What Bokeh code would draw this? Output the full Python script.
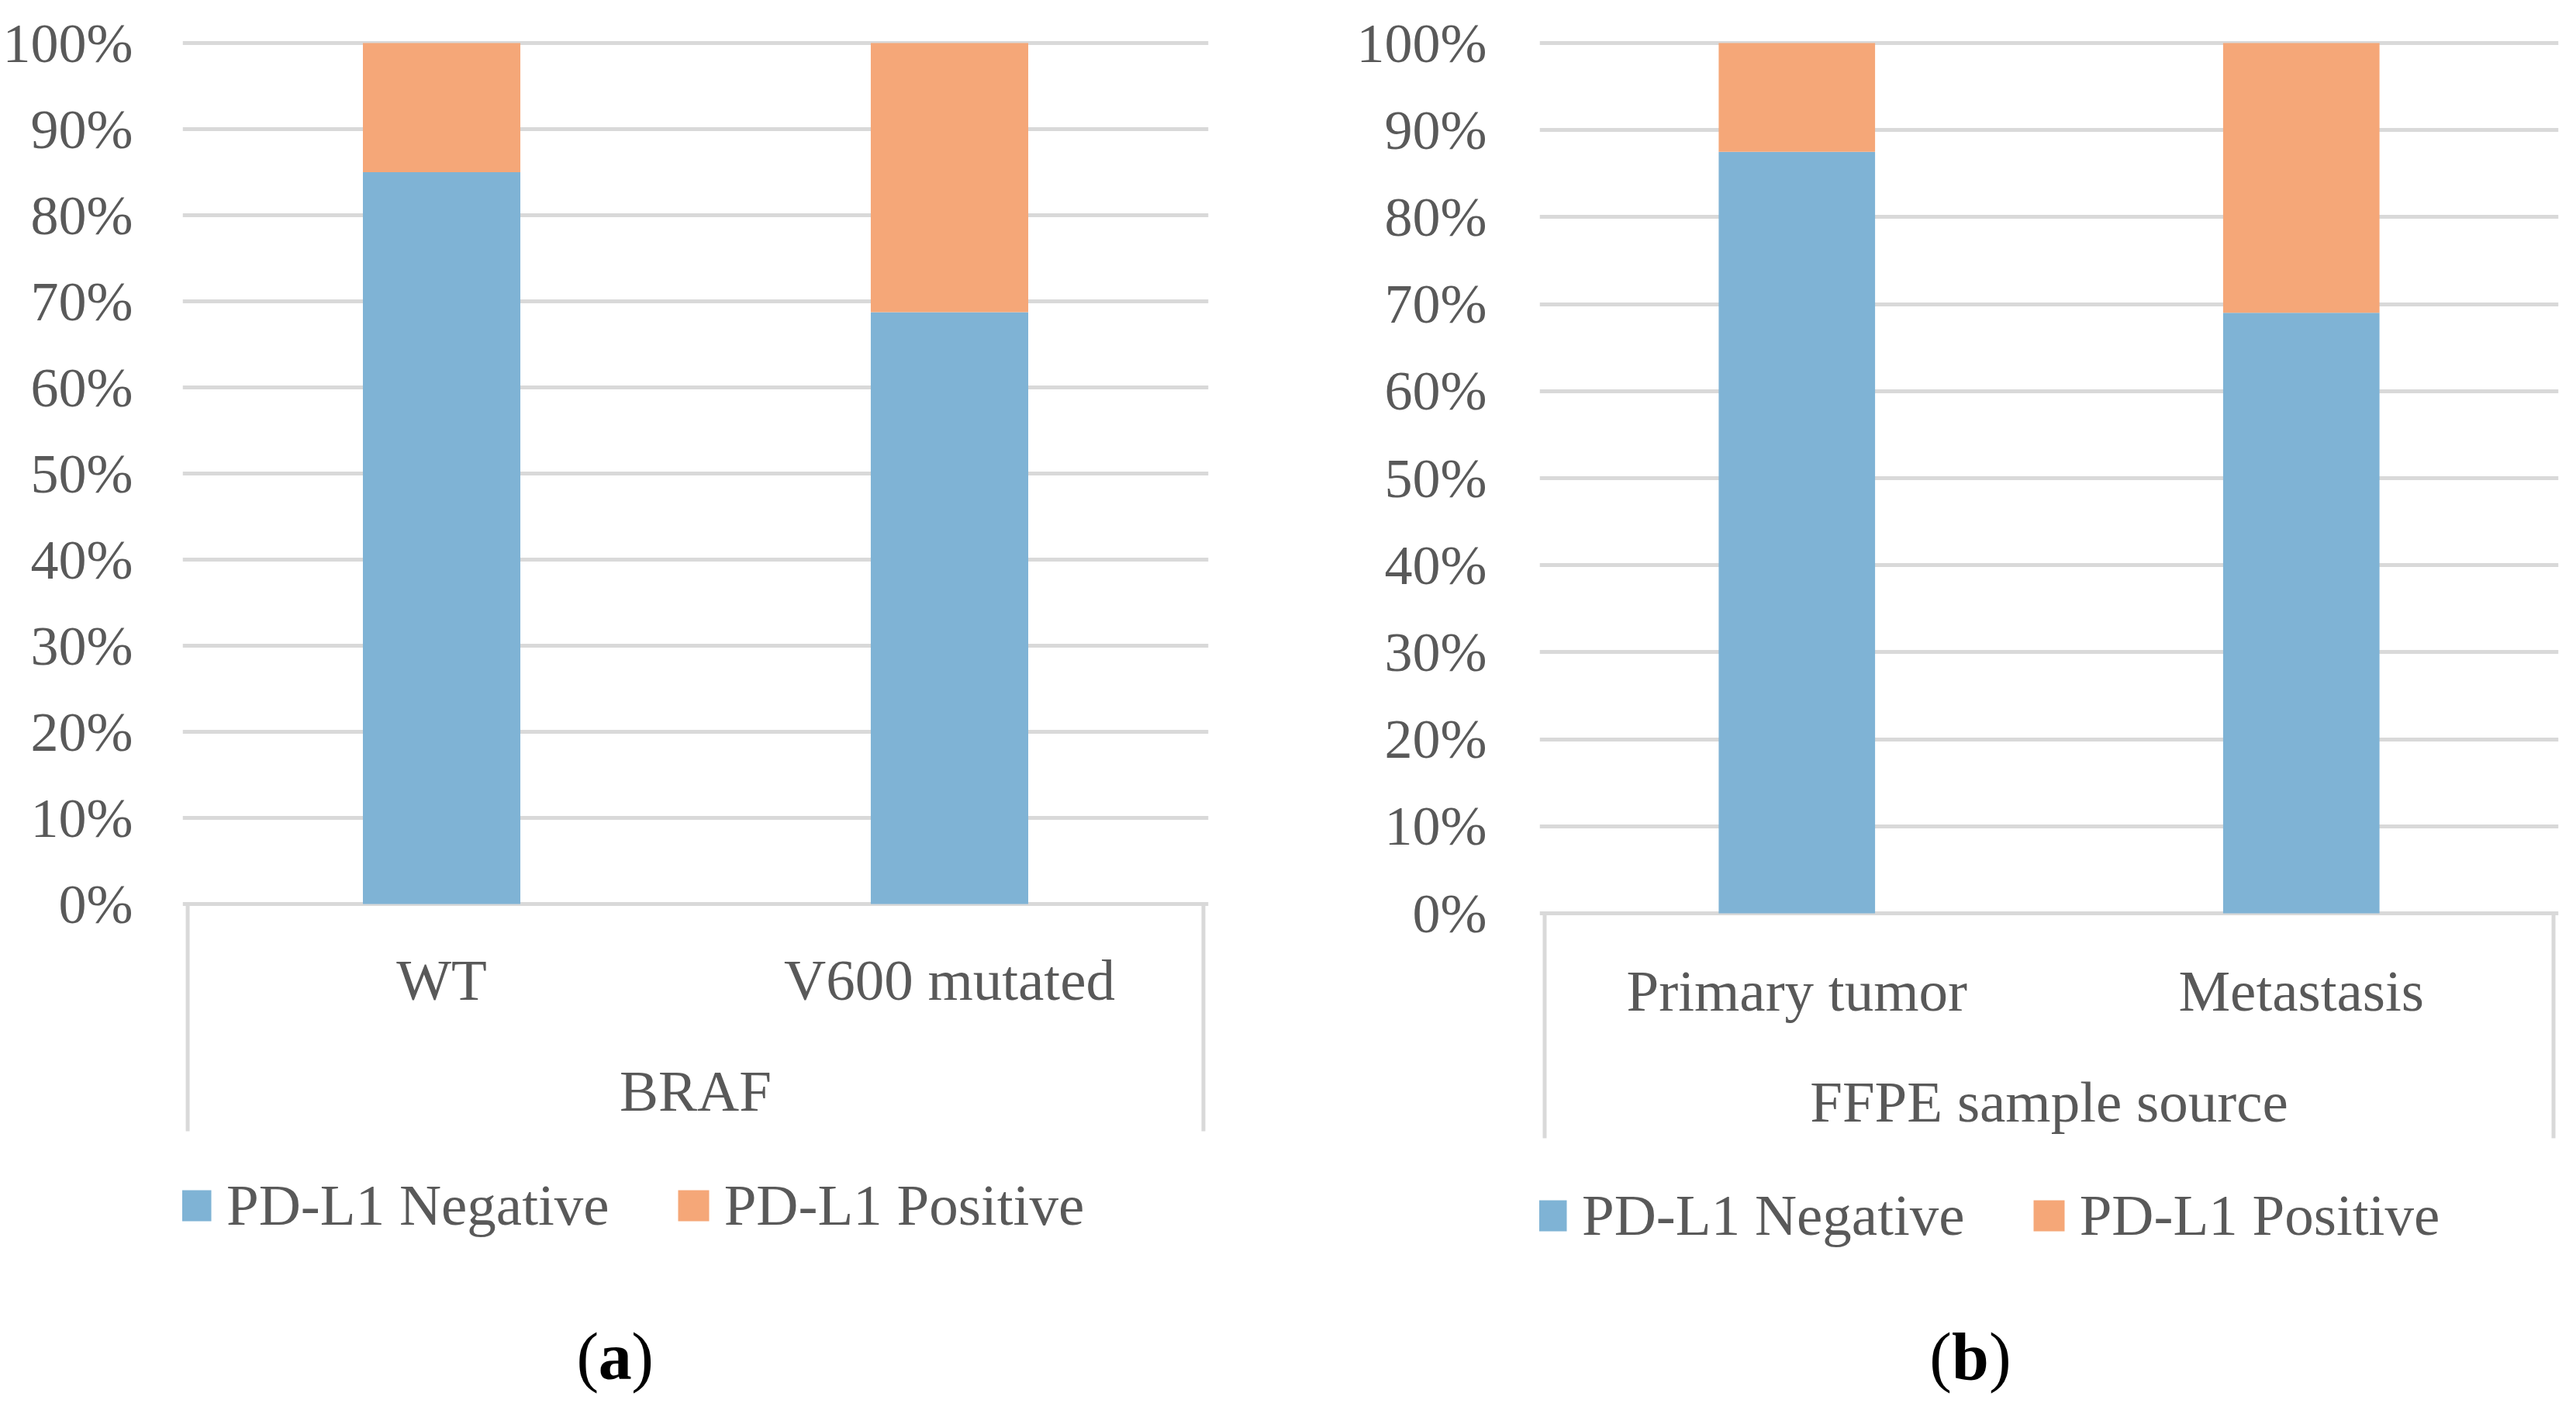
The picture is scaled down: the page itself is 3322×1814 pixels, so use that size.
from bokeh.plotting import figure
from bokeh.models import (FactorRange, Range1d, FixedTicker, NumeralTickFormatter,
                          Legend, LegendItem, ColumnDataSource)
from bokeh.layouts import row
from bokeh.embed import file_html
from bokeh.resources import INLINE
from bokeh.core.properties import value

# ---------------- data ----------------
categories_a = ["WT", "V600 mutated"]
negative_a = [0.85, 0.6875]
positive_a = [0.15, 0.3125]
group_a = "BRAF"
tag_a = "a"

categories_b = ["Primary tumor", "Metastasis"]
negative_b = [0.875, 0.69]
positive_b = [0.125, 0.31]
group_b = "FFPE sample source"
tag_b = "b"

series_names = ["PD-L1 Negative", "PD-L1 Positive"]
y_ticks = [0.0, 0.1, 0.2, 0.3, 0.4, 0.5, 0.6, 0.7, 0.8, 0.9, 1.0]

# ---------------- style ----------------
FONT = "Liberation Serif"
TEXT = "#595959"
GRID = "#d9d9d9"
BLUE = "#7fb3d5"
ORANGE = "#f5a778"
TXT_SIZE = "75px"
TICK_SIZE = "72px"
TAG_SIZE = "86px"
H = 1798
PAD = 0.01
MB_TOP = 51
MB_BOTTOM = 0
SHIFT = 23      # baseline correction for 75px text
TAG_SHIFT = 26  # baseline correction for 86px text


def panel(cats, neg, pos, group, tag, W, fig_left, left, right, zero_px, one_px,
          cat_base, group_base, box_bottom, legend_center, tag_x, standoff, legend_x, tag_half):
    scale = zero_px - one_px
    frame_top = 8 + MB_TOP
    frame_bottom = 8 + H - MB_BOTTOM
    y_end = (zero_px - frame_top) / scale
    y_start = -(frame_bottom - zero_px) / scale

    def ys(px):
        return (zero_px - px) / scale

    xr = FactorRange(*cats, range_padding=PAD, range_padding_units="absolute")
    x0 = -PAD / 2
    x1 = len(cats) + PAD / 2
    frame_left = fig_left + left
    frame_w = W - left - right

    def xs(px):
        return x0 + (px - frame_left) / frame_w * (x1 - x0)

    p = figure(width=W, height=H, x_range=xr, y_range=Range1d(y_start, y_end),
               output_backend="svg", toolbar_location=None, x_axis_location=None,
               min_border_left=left, min_border_right=right, min_border_top=MB_TOP,
               min_border_bottom=MB_BOTTOM)
    p.outline_line_color = None
    p.background_fill_color = "white"
    p.border_fill_color = "white"
    p.xgrid.visible = False

    ax = p.yaxis[0]
    ax.ticker = FixedTicker(ticks=y_ticks)
    ax.formatter = NumeralTickFormatter(format="0%")
    ax.axis_line_color = None
    ax.major_tick_line_color = None
    ax.minor_tick_line_color = None
    ax.major_tick_out = 0
    ax.major_tick_in = 0
    ax.major_label_standoff = standoff
    ax.major_label_text_font = FONT
    ax.major_label_text_font_size = TICK_SIZE
    ax.major_label_text_color = TEXT
    p.ygrid.grid_line_color = GRID
    p.ygrid.grid_line_width = 5

    src = ColumnDataSource(dict(cat=cats, neg=neg, pos=pos,
                                top2=[a + b for a, b in zip(neg, pos)]))
    r1 = p.vbar(x="cat", bottom=0, top="neg", width=0.31, source=src,
                fill_color=BLUE, line_color=None)
    r2 = p.vbar(x="cat", bottom="neg", top="top2", width=0.31, source=src,
                fill_color=ORANGE, line_color=None)

    # category box (multi-level axis frame)
    yb = ys(box_bottom)
    p.segment(x0=[0, len(cats)], y0=[0, 0], x1=[0, len(cats)], y1=[yb, yb],
              line_color=GRID, line_width=5)

    # category labels
    p.text(x=cats, y=[ys(cat_base - SHIFT)] * len(cats), text=cats, text_align="center",
           text_baseline="alphabetic", text_font=value(FONT), text_font_size=TXT_SIZE,
           text_color=TEXT)
    # group label
    p.text(x=[len(cats) / 2], y=[ys(group_base - SHIFT)], text=[group], text_align="center",
           text_baseline="alphabetic", text_font=value(FONT), text_font_size=TXT_SIZE,
           text_color=TEXT)

    # panel tag "(a)" with bold letter
    ty = ys(1782 - TAG_SHIFT)
    tx = xs(tag_x)
    p.text(x=[tx], y=[ty], text=[tag], text_align="center", text_baseline="alphabetic",
           text_font=value(FONT), text_font_size=TAG_SIZE, text_font_style="bold",
           text_color="black")
    p.text(x=[tx], y=[ty], text=["("], text_align="right", text_baseline="alphabetic",
           x_offset=-tag_half, text_font=value(FONT), text_font_size=TAG_SIZE,
           text_color="black")
    p.text(x=[tx], y=[ty], text=[")"], text_align="left", text_baseline="alphabetic",
           x_offset=tag_half, text_font=value(FONT), text_font_size=TAG_SIZE,
           text_color="black")

    item_h = 83
    legend = Legend(items=[LegendItem(label=series_names[0], renderers=[r1]),
                           LegendItem(label=series_names[1], renderers=[r2])],
                    orientation="horizontal",
                    location=(legend_x, frame_bottom - legend_center - item_h / 2),
                    glyph_width=50, glyph_height=50, label_standoff=15, spacing=83,
                    padding=0, margin=0, border_line_color=None,
                    background_fill_alpha=0, label_text_font=FONT,
                    label_text_font_size=TXT_SIZE, label_text_color=TEXT)
    p.add_layout(legend)
    return p


pa = panel(categories_a, negative_a, positive_a, group_a, tag_a, W=1660, fig_left=8,
           left=233, right=102, zero_px=1173, one_px=63, cat_base=1294, group_base=1437,
           box_bottom=1466, legend_center=1563, tag_x=799, standoff=64, legend_x=-8,
           tag_half=21)
pb = panel(categories_b, negative_b, positive_b, group_b, tag_b, W=1646, fig_left=1668,
           left=325, right=7, zero_px=1185, one_px=63, cat_base=1308, group_base=1451,
           box_bottom=1475, legend_center=1576, tag_x=2548, standoff=68, legend_x=-10,
           tag_half=24)

layout = row(pa, pb)
open("out.html", "w").write(file_html(layout, INLINE))
